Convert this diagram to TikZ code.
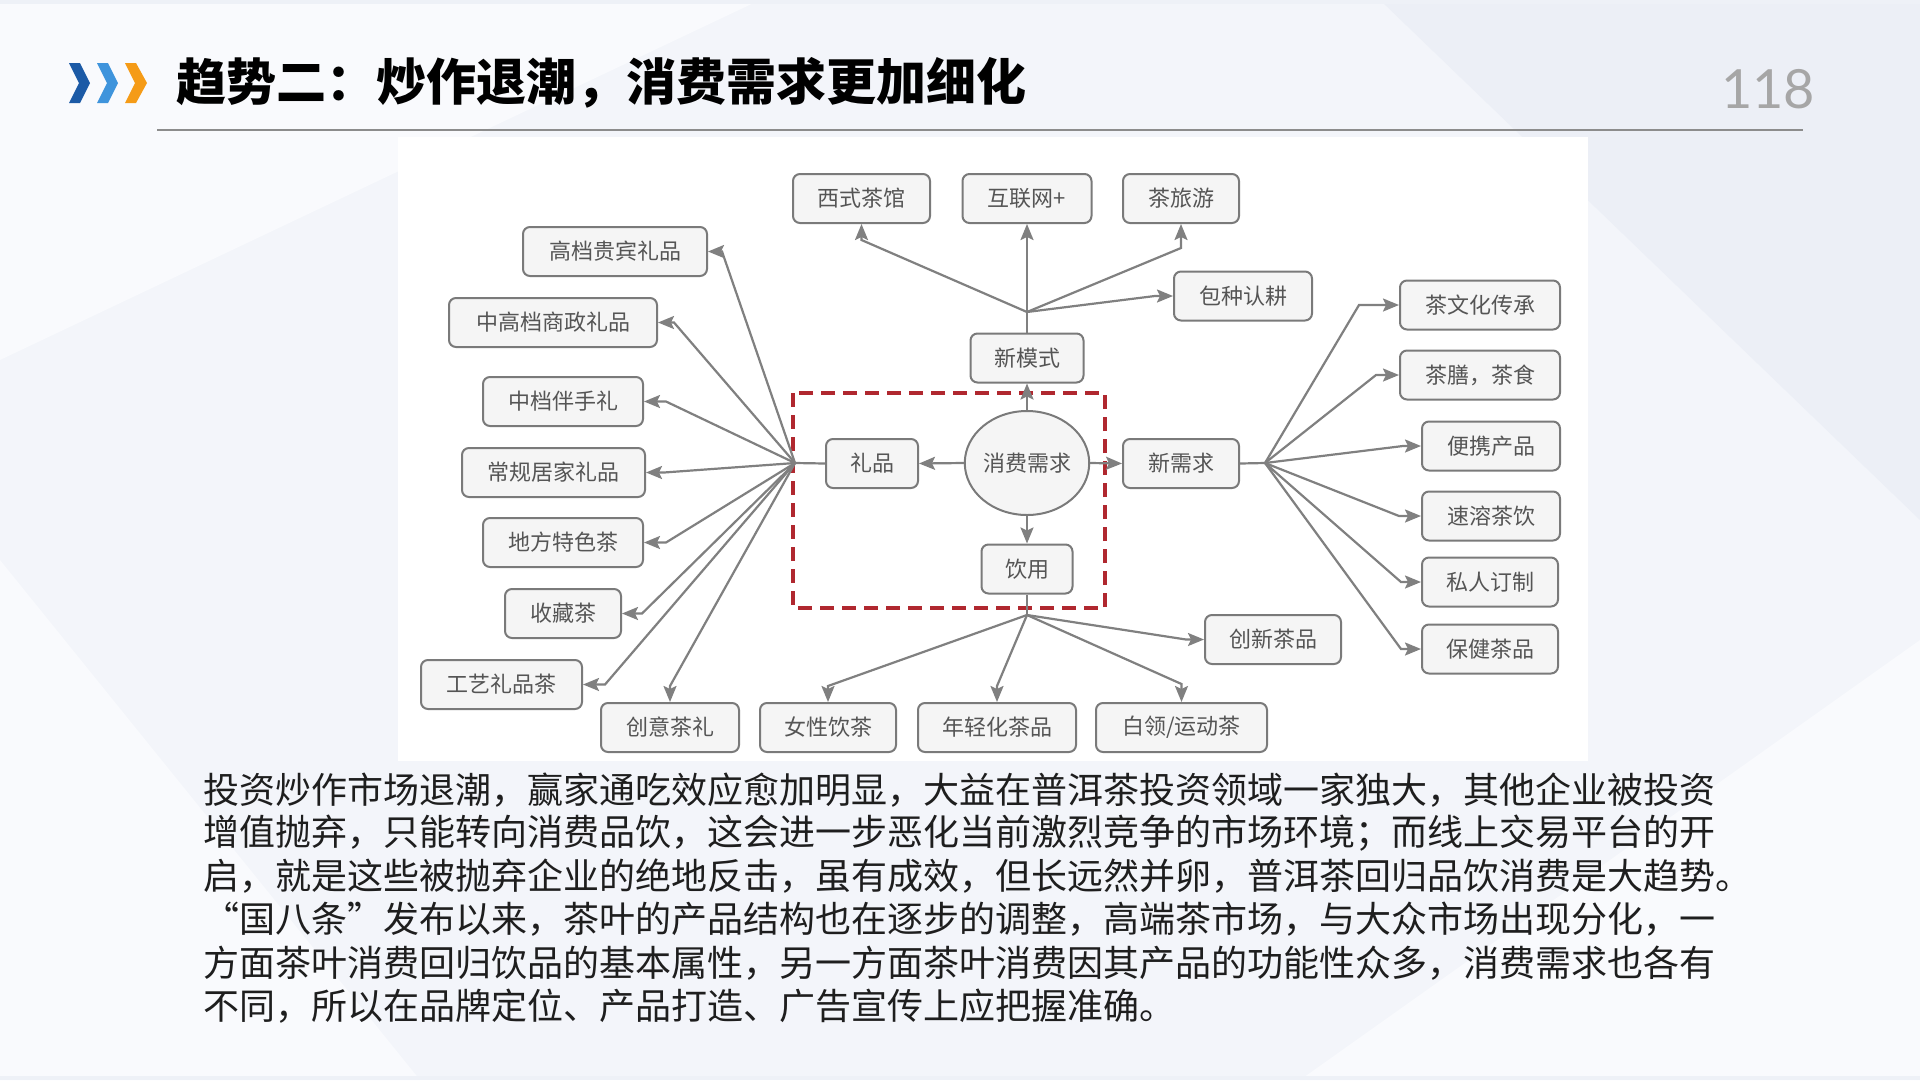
\documentclass[tikz,border=0pt]{standalone}
\usepackage{fontspec}
\usetikzlibrary{shapes.geometric,arrows.meta}
\newfontfamily\cjk{Noto Sans CJK SC}
\newfontfamily\numfont{Lato}
\definecolor{bgc}{HTML}{F3F5FA}
\definecolor{bglight}{HTML}{F9FAFD}
\definecolor{bgdark}{HTML}{ECEFF6}
\definecolor{linec}{HTML}{808080}
\definecolor{boxc}{HTML}{7A7A7A}
\definecolor{boxf}{HTML}{F5F5F5}
\definecolor{txtc}{HTML}{555555}
\definecolor{redc}{HTML}{B0282F}
\definecolor{chevA}{HTML}{1C5AA6}
\definecolor{chevB}{HTML}{3F94DC}
\definecolor{chevC}{HTML}{F59B17}
\definecolor{rulec}{HTML}{8C8C8C}
\definecolor{numc}{HTML}{A6A6A6}
\definecolor{bodyc}{HTML}{1E1E1E}
\tikzset{
  bx/.style={draw=boxc, fill=boxf, line width=2pt, rounded corners=7pt,
    minimum height=49pt, inner sep=0pt, text=txtc,
    font=\cjk\fontsize{22}{22}\selectfont},
  hubnode/.style={ellipse, draw=boxc, fill=boxf, line width=2pt,
    minimum width=122pt, minimum height=104pt, inner sep=0pt, text=txtc,
    font=\cjk\fontsize{22}{22}\selectfont},
  ln/.style={draw=linec, line width=2.2pt},
  arr/.style={draw=linec, line width=2.2pt,
    -{Stealth[length=16pt,width=13pt,inset=3pt]}},
  bodyline/.style={anchor=west, inner sep=0pt, text=bodyc,
    font=\cjk\fontsize{36}{36}\selectfont},
  reddash/.style={draw=redc, line width=3.5pt, dash pattern=on 14pt off 8pt}
}
\begin{document}
\begin{tikzpicture}[x=1pt,y=-1pt]
\useasboundingbox (0,0) rectangle (1920,1080);
% background
\fill[bgc] (0,0) rectangle (1920,1080);
\fill[bglight] (0,0) -- (760,0) -- (0,360) -- cycle;
\fill[bglight] (0,560) -- (420,1080) -- (0,1080) -- cycle;
\fill[bgdark] (1380,0) -- (1920,0) -- (1920,520) -- cycle;
\fill[bglight] (1920,640) -- (1920,1080) -- (1300,1080) -- cycle;
\fill[bgdark!70!bgc] (0,0) rectangle (1920,4);
\fill[bgdark!70!bgc] (0,1076) rectangle (1920,1080);
% chevrons
\fill[chevA] (69,63) -- (80,63) -- (90,83) -- (80,103) -- (69,103) -- (79,83) -- cycle;
\fill[chevB] (97,63) -- (108,63) -- (118,83) -- (108,103) -- (97,103) -- (107,83) -- cycle;
\fill[chevC] (125,63) -- (136,63) -- (147,83) -- (136,103) -- (125,103) -- (135,83) -- cycle;
% title
\node[anchor=west, inner sep=0pt, text=black,
  font=\cjk\bfseries\fontsize{50}{50}\selectfont] (title) at (176,83)
  {趋势二：炒作退潮，消费需求更加细化};
\node[inner sep=0pt, text=numc, font=\numfont\fontsize{54}{54}\selectfont] (pg) at (1768,89) {118};
\draw[line width=2pt, draw=rulec] (157,130) -- (1803,130);
% diagram panel
\fill[white] (398,137) rectangle (1588,761);
% nodes
\node[hubnode] (xq) at (1027,463) {消费需求};
\node[bx, minimum width=92pt] (lp) at (872,463.5) {礼品};
\node[bx, minimum width=116pt] (xxq) at (1181,463.5) {新需求};
\node[bx, minimum width=113pt] (xms) at (1027,358) {新模式};
\node[bx, minimum width=91pt] (yy) at (1027,569) {饮用};
% top
\node[bx, minimum width=137pt] (t1) at (861.5,198.5) {西式茶馆};
\node[bx, minimum width=129pt] (t2) at (1027,198.5) {互联网+};
\node[bx, minimum width=116pt] (t3) at (1181,198.5) {茶旅游};
\node[bx, minimum width=138pt] (t4) at (1243,296) {包种认耕};
% left
\node[bx, minimum width=184pt] (g1) at (615,251.5) {高档贵宾礼品};
\node[bx, minimum width=208pt] (g2) at (553,322.5) {中高档商政礼品};
\node[bx, minimum width=160pt] (g3) at (563,401.5) {中档伴手礼};
\node[bx, minimum width=183pt] (g4) at (553.5,472.5) {常规居家礼品};
\node[bx, minimum width=160pt] (g5) at (563,542.5) {地方特色茶};
\node[bx, minimum width=116pt] (g6) at (563,613.5) {收藏茶};
\node[bx, minimum width=161pt] (g7) at (501.5,684.5) {工艺礼品茶};
% bottom
\node[bx, minimum width=138pt] (b1) at (670,727.5) {创意茶礼};
\node[bx, minimum width=136pt] (b2) at (828,727.5) {女性饮茶};
\node[bx, minimum width=158pt] (b3) at (997,727.5) {年轻化茶品};
\node[bx, minimum width=171pt] (b4) at (1181.5,727.5) {白领/运动茶};
\node[bx, minimum width=136pt] (b5) at (1273,639.5) {创新茶品};
% right
\node[bx, minimum width=160pt] (r1) at (1480,305) {茶文化传承};
\node[bx, minimum width=160pt] (r2) at (1480,375) {茶膳，茶食};
\node[bx, minimum width=138pt] (r3) at (1491,446) {便携产品};
\node[bx, minimum width=138pt] (r4) at (1491,516) {速溶茶饮};
\node[bx, minimum width=136pt] (r5) at (1490,582) {私人订制};
\node[bx, minimum width=136pt] (r6) at (1490,649) {保健茶品};
% hubs
\coordinate (L) at (795,463);
\coordinate (R) at (1265,463);
\coordinate (T) at (1027,312);
\coordinate (B) at (1027,615);
% red dashed frame
\draw[reddash] (793,393) rectangle (1105,608);
% centre arrows
\draw[arr] (xq.west) -- (lp.east);
\draw[arr] (xq.north) -- (xms.south);
\draw[arr] (xq.east) -- (xxq.west);
\draw[arr] (xq.south) -- (yy.north);
% left fan
\draw[ln] (lp.west) -- (L);
\draw[arr] (L) -- ([xshift=14pt]g1.east) -- (g1.east);
\draw[arr] (L) -- ([xshift=16pt]g2.east) -- (g2.east);
\draw[arr] (L) -- ([xshift=22pt]g3.east) -- (g3.east);
\draw[arr] (L) -- ([xshift=18pt]g4.east) -- (g4.east);
\draw[arr] (L) -- ([xshift=22pt]g5.east) -- (g5.east);
\draw[arr] (L) -- ([xshift=20pt]g6.east) -- (g6.east);
\draw[arr] (L) -- ([xshift=22pt]g7.east) -- (g7.east);
\draw[arr] (L) -- ([yshift=16pt]b1.north) -- (b1.north);
% top fan
\draw[ln] (xms.north) -- (T);
\draw[arr] (T) -- ([yshift=-16pt]t1.south) -- (t1.south);
\draw[arr] (T) -- (t2.south);
\draw[arr] (T) -- ([yshift=-24pt]t3.south) -- (t3.south);
\draw[arr] (T) -- ([xshift=-18pt]t4.west) -- (t4.west);
% right fan
\draw[ln] (xxq.east) -- (R);
\draw[arr] (R) -- ([xshift=-40pt]r1.west) -- (r1.west);
\draw[arr] (R) -- ([xshift=-23pt]r2.west) -- (r2.west);
\draw[arr] (R) -- ([xshift=-18pt]r3.west) -- (r3.west);
\draw[arr] (R) -- ([xshift=-22pt]r4.west) -- (r4.west);
\draw[arr] (R) -- ([xshift=-20pt]r5.west) -- (r5.west);
\draw[arr] (R) -- ([xshift=-20pt]r6.west) -- (r6.west);
% bottom fan
\draw[ln] (yy.south) -- (B);
\draw[arr] (B) -- ([yshift=16pt]b2.north) -- (b2.north);
\draw[arr] (B) -- ([yshift=16pt]b3.north) -- (b3.north);
\draw[arr] (B) -- ([yshift=18pt]b4.north) -- (b4.north);
\draw[arr] (B) -- ([xshift=-18pt]b5.west) -- (b5.west);
% body text
\node[bodyline] (l1) at (203,790) {投资炒作市场退潮，赢家通吃效应愈加明显，大益在普洱茶投资领域一家独大，其他企业被投资};
\node[bodyline] (l2) at (203,833.2) {增值抛弃，只能转向消费品饮，这会进一步恶化当前激烈竞争的市场环境；而线上交易平台的开};
\node[bodyline] (l3) at (203,876.4) {启，就是这些被抛弃企业的绝地反击，虽有成效，但长远然并卵，普洱茶回归品饮消费是大趋势。};
\node[bodyline] (l4) at (203,919.6) {“国八条”发布以来，茶叶的产品结构也在逐步的调整，高端茶市场，与大众市场出现分化，一};
\node[bodyline] (l5) at (203,962.8) {方面茶叶消费回归饮品的基本属性，另一方面茶叶消费因其产品的功能性众多，消费需求也各有};
\node[bodyline] (l6) at (203,1006) {不同，所以在品牌定位、产品打造、广告宣传上应把握准确。};
\end{tikzpicture}
\end{document}
